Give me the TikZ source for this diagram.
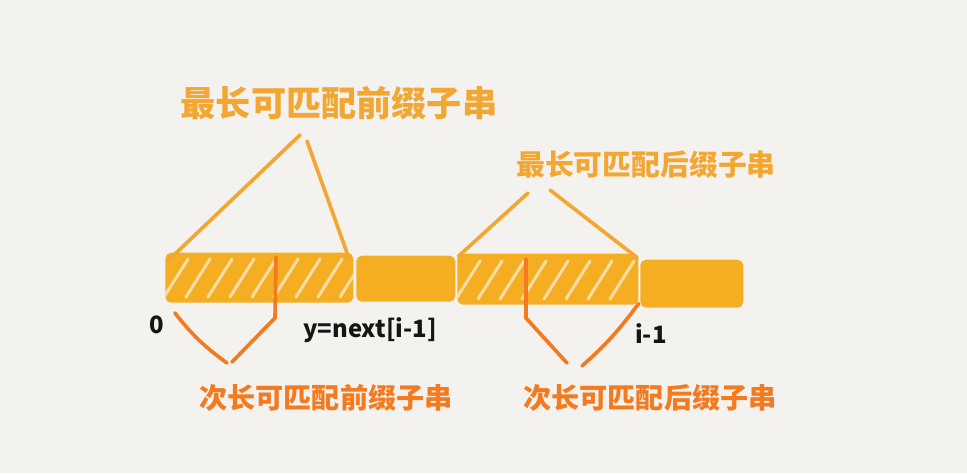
\documentclass[tikz,border=0pt]{standalone}
\usepackage{fontspec}
\newfontfamily\cjk{Noto Sans CJK SC}
\usetikzlibrary{positioning}

\definecolor{paper}{HTML}{F4F2EE}
\definecolor{bargold}{HTML}{F5AE22}
\definecolor{hatchcream}{HTML}{F9DCA4}
\definecolor{longgold}{HTML}{F2A733}
\definecolor{shortorange}{HTML}{F37A1F}
\definecolor{ink}{HTML}{151515}

\begin{document}
\begin{tikzpicture}[
    seg/.style={fill=bargold, draw=none, rounded corners=4pt, inner sep=0pt, anchor=south west},
    hatchline/.style={hatchcream, line width=2.2pt, line cap=round},
    longlink/.style={longgold, line width=2.6pt, line cap=round},
    shortlink/.style={shortorange, line width=2.6pt, line cap=round, line join=round},
    longlabel/.style={text=longgold, inner sep=0pt},
    shortlabel/.style={text=shortorange, inner sep=0pt, font=\cjk\bfseries\fontsize{20}{20}\selectfont},
    idx/.style={text=ink, inner sep=0pt, font=\cjk\bfseries\fontsize{17}{17}\selectfont},
]

% Paper
\useasboundingbox (0,0) rectangle (24.175,11.825);
\fill[paper] (0,0) rectangle (24.175,11.825);

% Bar segments
\node[seg, minimum width=4.7cm, minimum height=1.25cm] (b1) at (4.125,4.25) {};
\node[seg, minimum width=2.475cm, minimum height=1.15cm] (b2) at (8.9,4.275) {};
\node[seg, minimum width=4.525cm, minimum height=1.275cm] (b3) at (11.425,4.2) {};
\node[seg, minimum width=2.575cm, minimum height=1.2cm] (b4) at (16.0,4.125) {};

% Hatching
\begin{scope}
  \clip (b1.south west) rectangle (b1.north east);
  \foreach \x in {4.1,4.65,...,8.6}
    \draw[hatchline] (\x,4.4) -- ++(0.6,0.95);
\end{scope}
\begin{scope}
  \clip (b3.south west) rectangle (b3.north east);
  \foreach \x in {11.4,11.95,...,15.6}
    \draw[hatchline] (\x,4.35) -- ++(0.6,0.95);
\end{scope}

% Labels
\node[longlabel, font=\cjk\bfseries\fontsize{25}{25}\selectfont] (longpre) at (8.475,9.25) {最长可匹配前缀子串};
\node[longlabel, font=\cjk\bfseries\fontsize{20.5}{20.5}\selectfont] (longsuf) at (16.15,7.7) {最长可匹配后缀子串};
\node[shortlabel] (shortpre) at (8.15,1.875) {次长可匹配前缀子串};
\node[shortlabel] (shortsuf) at (16.25,1.875) {次长可匹配后缀子串};
\node[idx] (zero) at (3.925,3.7) {0};
\node[idx] (ynext) at (9.25,3.575) {y=next[i-1]};
\node[idx] (iminus) at (16.275,3.475) {i-1};

% Link ends
\coordinate (lp1) at (7.5,8.45);
\coordinate (lp2) at (7.675,8.3);
\coordinate (ls1) at (13.2,7.0);
\coordinate (ls2) at (13.75,7.075);
\coordinate (sp1) at (5.675,2.75);
\coordinate (sp2) at (5.8,2.775);
\coordinate (ss1) at (14.175,2.75);
\coordinate (ss2) at (14.55,2.675);

% Longest prefix / suffix
\draw[longlink] ([xshift=2pt,yshift=-6pt]b1.north west) -- (lp1);
\draw[longlink] (lp2) -- ([xshift=-3pt,yshift=-5pt]b1.north east);
\draw[longlink] ([xshift=1pt,yshift=-2pt]b3.north west) -- (ls1);
\draw[longlink] (ls2) -- ([xshift=-1pt,yshift=-3pt]b3.north east);

% Second longest prefix / suffix
\draw[shortlink] ([xshift=7pt,yshift=-7pt]b1.south west) to[bend right=8] (sp1);
\draw[shortlink] (sp2) -- (6.875,3.875) -- (6.9,5.4);
\draw[shortlink] (13.15,5.35) -- (13.15,3.875) -- (ss1);
\draw[shortlink] (ss2) to[bend right=6] ([yshift=1pt]b3.south east);

\end{tikzpicture}
\end{document}
